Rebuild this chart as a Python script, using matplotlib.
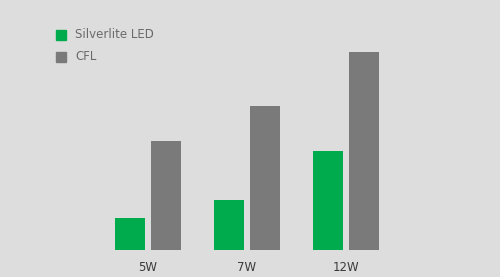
import numpy as np
import matplotlib.pyplot as plt

plt.rcParams['font.family'] = ['DejaVu Sans']

# Data (bar heights, arbitrary units)
categories = ['5W', '7W', '12W']
led_values = [32, 50, 99]
cfl_values = [109, 144, 198]
series_names = ['Silverlite LED', 'CFL']

bg_color = '#dddddd'
led_color = '#00ab4e'
cfl_color = '#7a7a7a'

fig = plt.figure(figsize=(5.0, 2.77), dpi=100)
fig.patch.set_facecolor(bg_color)

# axes spans full width, baseline 27 px from the bottom
ax = fig.add_axes([0, 27 / 277, 1, 250 / 277])
ax.set_facecolor(bg_color)

x = np.arange(len(categories))
spacing = 98.75  # px per group
width = 30 / spacing
offset = 18 / spacing

ax.bar(x - offset, led_values, width, color=led_color, label=series_names[0])
ax.bar(x + offset, cfl_values, width, color=cfl_color, label=series_names[1])

ax.set_xlim(-148 / spacing, (500 - 148) / spacing)
ax.set_ylim(0, 250)

for s in ax.spines.values():
    s.set_visible(False)
ax.set_yticks([])
ax.set_xticks(x)
ax.set_xticklabels(categories, fontsize=8.5, color='#3a3a3a')
ax.tick_params(axis='x', length=0, pad=8)

# legend drawn as squares + text, in figure pixels
for i, (name, col) in enumerate(zip(series_names, [led_color, cfl_color])):
    yc = 277 - (35 + i * 22)
    fig.patches.append(plt.Rectangle((56 / 500, (yc - 5) / 277), 10 / 500, 10 / 277,
                                     transform=fig.transFigure, color=col))
    fig.text(75 / 500, yc / 277, name, fontsize=8.5, color='#6a6a6a',
             va='center', ha='left')

fig.savefig('out.png', dpi=100, facecolor=bg_color)
